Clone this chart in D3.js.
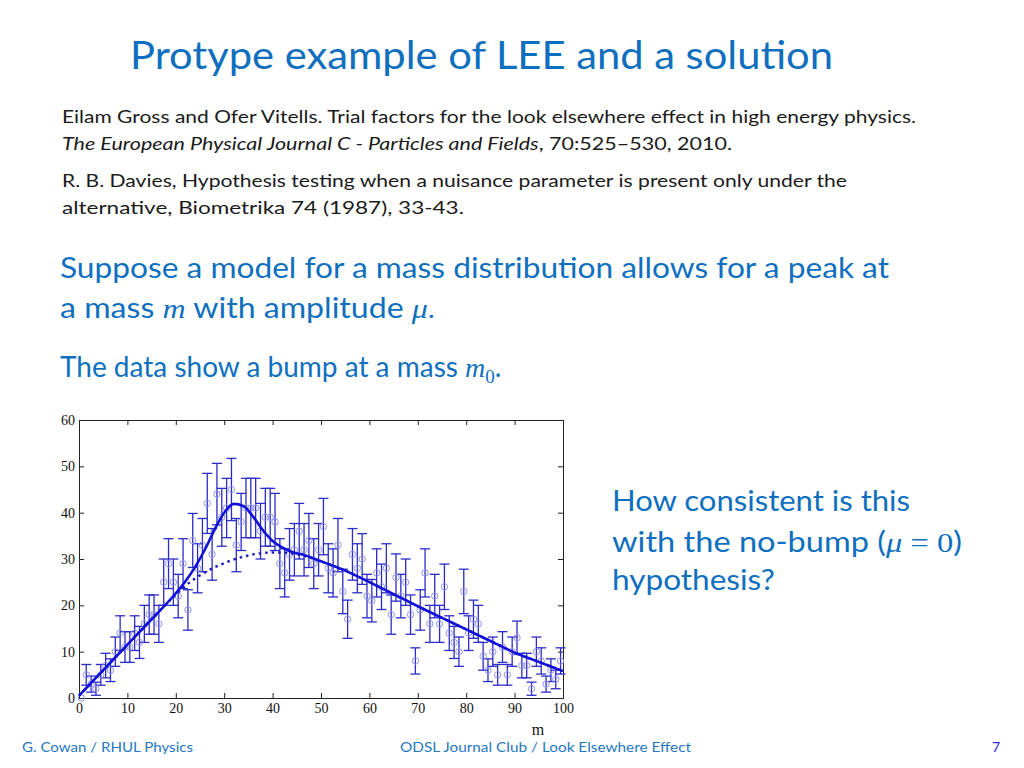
<!DOCTYPE html>
<html>
<head>
<meta charset="utf-8">
<script src="https://cdn.jsdelivr.net/npm/d3@7"></script>
<style>
  html, body { margin: 0; padding: 0; background: #fff; }
  svg { display: block; }
</style>
</head>
<body>
<svg id="chart" width="1024" height="768"></svg>
<script>
// ---------- data ----------
const counts = [0,5,3,2,5,7,6,10,14,11,
                11,14,12,16,18,18,16,25,29,25,
                22,29,19,34,28,33,42,31,44,39,
                41,45,33,38,41,41,41,36,39,39,
                38,29,27,31,32,36,32,34,29,32,
                37,28,27,33,23,17,31,28,30,22,
                21,27,24,28,18,26,22,25,18,8,
                19,27,16,22,16,24,14,12,10,23,
                14,17,16,9,6,10,5,11,5,10,
                13,7,7,2,10,8,3,6,4,8];
const binCenters = d3.range(counts.length).map(i => i + 0.5);

const fitM     = [0,5,10,15,20,22,24,26,28,30,32,34,36,38,40,42,44,46,50,55,60,65,70,75,80,85,90,95,100];
const fitTotal = [0.5,6,11.5,17,22.6,25.2,28.3,32.0,36.3,40.0,41.9,41.4,39.1,36.2,33.9,32.5,31.5,31.0,29.5,27.5,25,22.4,19.8,17.3,14.8,12.3,9.8,7.8,5.8];
const fitBkg   = [0.5,6,11.5,17,22.3,24.2,25.8,27.1,28.2,29.1,29.9,30.5,31.0,31.3,31.4,31.4,31.2,30.8,29.5,27.5,25,22.4,19.8,17.3,14.8,12.3,9.8,7.8,5.8];

const xTicks = [0,10,20,30,40,50,60,70,80,90,100];
const yTicks = [0,10,20,30,40,50,60];

// ---------- drawing ----------
const svg = d3.select("#chart");
svg.append("rect").attr("width",1024).attr("height",768).attr("fill","#fff");

const x = d3.scaleLinear().domain([0,100]).range([79,563]);
const y = d3.scaleLinear().domain([0,60]).range([698,420]);

const blue = "#0e6fbf";
const sans = "Lato, 'Open Sans', sans-serif";
const serif = "'Liberation Serif', 'DejaVu Serif', serif";

function txt(s, xx, yy, size, color, len, opts = {}) {
  const t = svg.append("text").attr("x", xx).attr("y", yy)
    .attr("font-family", opts.family || sans).attr("font-size", size)
    .attr("fill", color).text(s);
  if (opts.italic) t.attr("font-style", "italic");
  if (opts.anchor) t.attr("text-anchor", opts.anchor);
  if (len) t.attr("textLength", len).attr("lengthAdjust", "spacingAndGlyphs");
  return t;
}

// Title
txt("Protype example of LEE and a solution", 130, 69, 38, blue, 703);

// References
txt("Eilam Gross and Ofer Vitells. Trial factors for the look elsewhere effect in high energy physics.", 62, 123, 18, "#1a1a1a", 854);
{
  const t = svg.append("text").attr("x",62).attr("y",150).attr("font-family",sans).attr("font-size",18).attr("fill","#1a1a1a")
    .attr("textLength",670).attr("lengthAdjust","spacingAndGlyphs");
  t.append("tspan").attr("font-style","italic").text("The European Physical Journal C - Particles and Fields");
  t.append("tspan").text(", 70:525\u2013530, 2010.");
}
txt("R. B. Davies, Hypothesis testing when a nuisance parameter is present only under the", 62, 187, 18, "#1a1a1a", 785);
txt("alternative, Biometrika 74 (1987), 33-43.", 62, 214, 18, "#1a1a1a", 402);

// Blue statements
txt("Suppose a model for a mass distribution allows for a peak at", 60, 278, 28, blue, 829);
{
  const t = svg.append("text").attr("x",60).attr("y",318).attr("font-family",sans).attr("font-size",28).attr("fill",blue)
    .attr("textLength",376).attr("lengthAdjust","spacingAndGlyphs");
  t.append("tspan").text("a mass ");
  t.append("tspan").attr("font-family",serif).attr("font-style","italic").text("m");
  t.append("tspan").text(" with amplitude ");
  t.append("tspan").attr("font-family",serif).attr("font-style","italic").text("\u03bc.");
}
{
  const t = svg.append("text").attr("x",60).attr("y",377).attr("font-family",sans).attr("font-size",28).attr("fill",blue);
  t.append("tspan").text("The data show a bump at a mass ");
  t.append("tspan").attr("font-family",serif).attr("font-style","italic").text("m");
  t.append("tspan").attr("font-family",serif).attr("font-size",19).attr("dy",6).text("0");
  t.append("tspan").attr("dy",-6).text(".");
}

// Right side question
txt("How consistent is this", 612, 511, 28, blue, 298);
{
  const t = svg.append("text").attr("x",612).attr("y",552).attr("font-family",sans).attr("font-size",28).attr("fill",blue)
    .attr("textLength",350).attr("lengthAdjust","spacingAndGlyphs");
  t.append("tspan").text("with the no-bump (");
  t.append("tspan").attr("font-family",serif).attr("font-style","italic").text("\u03bc");
  t.append("tspan").attr("font-family",serif).text(" = 0");
  t.append("tspan").text(")");
}
txt("hypothesis?", 612, 590, 28, blue, 163);

// Footer
txt("G. Cowan / RHUL Physics", 22, 752, 14, "#1f78c1", 171);
txt("ODSL Journal Club / Look Elsewhere Effect", 400, 752, 14, "#1f78c1", 291);
txt("7", 996, 752, 14, "#2a2ad0", null, {anchor:"middle"});

// ---------- plot ----------
const plot = svg.append("g");

// axes with inward ticks
const axB = plot.append("g").attr("transform","translate(0,698)")
  .call(d3.axisBottom(x).tickValues(xTicks).tickSize(-5).tickPadding(5).tickFormat(d3.format("d")));
const axT = plot.append("g").attr("transform","translate(0,420)")
  .call(d3.axisTop(x).tickValues(xTicks).tickSize(-5).tickFormat(""));
const axL = plot.append("g").attr("transform","translate(79,0)")
  .call(d3.axisLeft(y).tickValues(yTicks).tickSize(-5).tickPadding(4).tickFormat(d3.format("d")));
const axR = plot.append("g").attr("transform","translate(563,0)")
  .call(d3.axisRight(y).tickValues(yTicks).tickSize(-5).tickFormat(""));
[axB,axT,axL,axR].forEach(a => {
  a.select(".domain").attr("stroke","#222").attr("stroke-width",1);
  a.selectAll(".tick line").attr("stroke","#222");
  a.selectAll("text").attr("font-family",serif).attr("font-size",14).attr("fill","#111");
});

// axis label
plot.append("text").attr("x",538).attr("y",735).attr("text-anchor","middle")
  .attr("font-family",serif).attr("font-size",16).attr("fill","#111").text("m");

// error bars
const ebColor = "#2b2bc8";
const eb = plot.append("g").attr("stroke",ebColor).attr("stroke-width",1.3).attr("fill","none");
counts.forEach((n,i) => {
  const e = Math.sqrt(n);
  if (e === 0) return;
  const cx = x(binCenters[i]);
  eb.append("line").attr("x1",cx).attr("x2",cx).attr("y1",y(n-e)).attr("y2",y(n+e));
  eb.append("line").attr("x1",cx-5).attr("x2",cx+5).attr("y1",y(n-e)).attr("y2",y(n-e));
  eb.append("line").attr("x1",cx-5).attr("x2",cx+5).attr("y1",y(n+e)).attr("y2",y(n+e));
});

// points
plot.append("g").selectAll("circle").data(counts).join("circle")
  .attr("cx",(d,i)=>x(binCenters[i])).attr("cy",d=>y(d)).attr("r",3.2)
  .attr("fill","none").attr("stroke","#9292f2").attr("stroke-width",1);

// fit curves
const line = d3.line().x(d=>x(d[0])).y(d=>y(d[1])).curve(d3.curveMonotoneX);
plot.append("path").datum(fitM.map((m,i)=>[m,fitBkg[i]]))
  .attr("d",line).attr("fill","none").attr("stroke","#1818c0").attr("stroke-width",2.4)
  .attr("stroke-dasharray","2.5,4");
plot.append("path").datum(fitM.map((m,i)=>[m,fitTotal[i]]))
  .attr("d",line).attr("fill","none").attr("stroke","#1010d8").attr("stroke-width",2.6);
</script>
</body>
</html>
